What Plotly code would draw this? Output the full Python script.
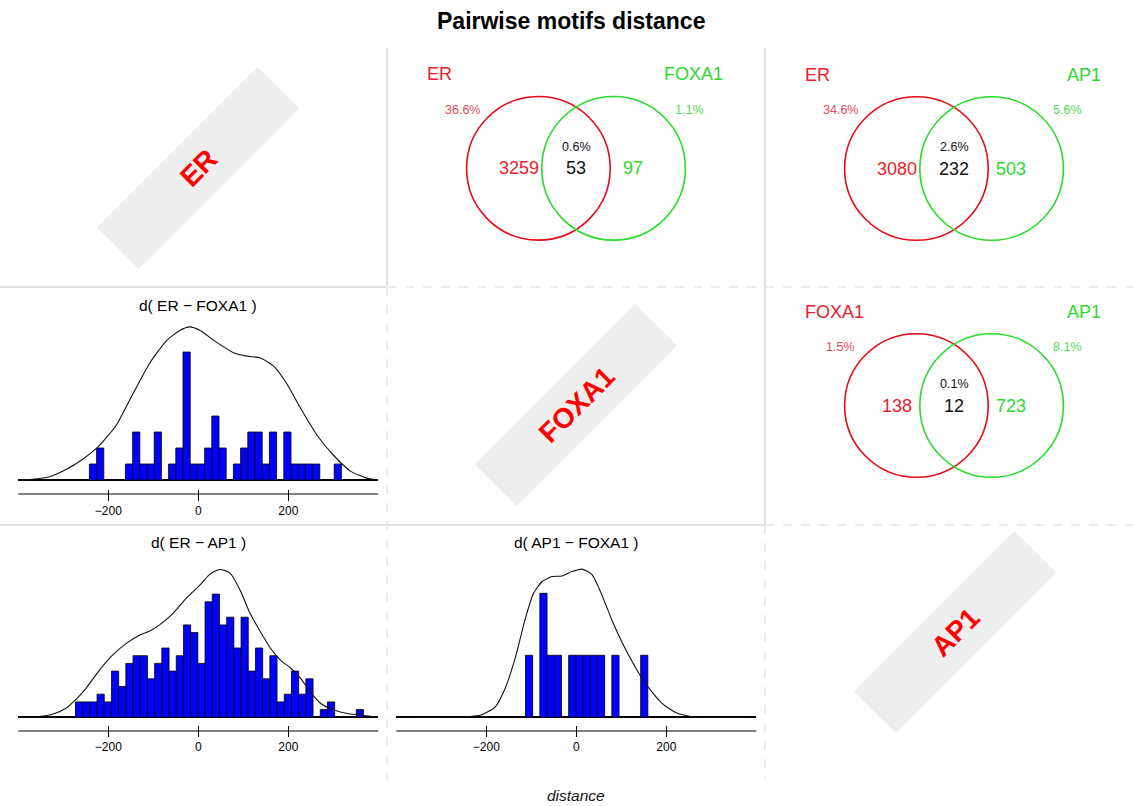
import plotly.graph_objects as go

W, H = 1133, 806
FONT = "Liberation Sans, Arial, Helvetica, sans-serif"

# ---------------------------------------------------------------- data
BIN_WIDTH = 16

er_foxa1_start = -242
er_foxa1_counts = [1, 2, 0, 0, 0, 1, 3, 1, 1, 3, 0, 1, 2, 8, 1, 1, 2, 4, 2, 0,
                   1, 2, 3, 3, 1, 3, 0, 3, 1, 1, 1, 1, 0, 0, 1]
er_foxa1_dens_x = [-400, -369, -331, -294, -257, -220, -182, -145, -108, -71,
                   -41, -19, 4, 41, 78, 108, 138, 168, 197, 227, 264, 302,
                   339, 376, 400]
er_foxa1_dens_y = [0.0, 0.04, 0.2, 0.65, 1.3, 2.15, 3.44, 5.4, 7.3, 8.7,
                   9.35, 9.57, 9.35, 8.6, 7.96, 7.74, 7.63, 7.1, 6.0, 4.5,
                   2.8, 1.5, 0.54, 0.1, 0.0]

er_ap1_start = -273
er_ap1_counts = [2, 2, 2, 3, 2, 6, 4, 7, 8, 8, 5, 7, 9, 6, 8, 12, 11, 7, 15, 16,
                 12, 13, 9, 13, 6, 9, 5, 8, 2, 3, 6, 3, 5, 0, 1, 2, 0, 0, 0, 1]
er_ap1_dens_x = [-400, -354, -324, -294, -273, -249, -220, -190, -160, -130,
                 -108, -86, -56, -26, 4, 26, 48, 71, 93, 115, 138, 160, 183,
                 205, 227, 249, 272, 302, 331, 361, 400]
er_ap1_dens_y = [0.0, 0.1, 0.4, 1.17, 2.25, 3.8, 6.1, 8.1, 9.6, 10.7, 11.2,
                 12.0, 13.5, 15.5, 17.2, 18.6, 19.2, 18.7, 16.5, 13.5, 11.1,
                 9.0, 7.4, 6.4, 5.1, 3.3, 1.8, 0.95, 0.5, 0.3, 0.0]

ap1_foxa1_start = -113
ap1_foxa1_counts = [1, 0, 2, 1, 1, 0, 1, 1, 1, 1, 1, 0, 1, 0, 0, 0, 1]
ap1_foxa1_dens_x = [-400, -276, -239, -210, -180, -158, -136, -113, -95, -76,
                    -54, -32, -10, 13, 35, 57, 79, 101, 124, 146, 168, 190,
                    220, 257, 400]
ap1_foxa1_dens_y = [0.0, 0.0, 0.01, 0.04, 0.17, 0.47, 0.95, 1.6, 2.0, 2.19,
                    2.27, 2.28, 2.35, 2.39, 2.3, 1.97, 1.57, 1.22, 0.9, 0.63,
                    0.41, 0.23, 0.08, 0.01, 0.0]

x_ticks = [-200, 0, 200]
x_limits = [-400, 400]

# Venn diagrams: (left set, right set, left only, both, right only, pct left, pct both, pct right)
venn_sets = [
    ("ER", "FOXA1", 3259, 53, 97, "36.6%", "0.6%", "1.1%"),
    ("ER", "AP1", 3080, 232, 503, "34.6%", "2.6%", "5.6%"),
    ("FOXA1", "AP1", 138, 12, 723, "1.5%", "0.1%", "8.1%"),
]
motifs = ["ER", "FOXA1", "AP1"]

# ---------------------------------------------------------------- styling
RED_TXT = "#EC1C2E"
RED_PCT = "#E8485A"
RED_LINE = "#E60A14"
GREEN_TXT = "#2ED82E"
GREEN_PCT = "#55D855"
GREEN_LINE = "#2BDB2B"
GRID_SOLID = "#E0E0E0"
GRID_DASH = "#E6E6E6"


def fx(px):
    return px / W


def fy(py):
    return 1 - py / H


fig = go.Figure()

# histogram panels, laid out in pixel terms
panels = [
    dict(title="d( ER \u2212 FOXA1 )", start=er_foxa1_start, counts=er_foxa1_counts,
         dx=er_foxa1_dens_x, dy=er_foxa1_dens_y, xpx=(18.3, 378.3), top=312,
         tick_top=489, base=480, unit=16.0, axis_line=494, title_xy=(198, 305)),
    dict(title="d( ER \u2212 AP1 )", start=er_ap1_start, counts=er_ap1_counts,
         dx=er_ap1_dens_x, dy=er_ap1_dens_y, xpx=(18.3, 378.3), top=548,
         tick_top=725, base=717.3, unit=7.7, axis_line=731, title_xy=(198, 542)),
    dict(title="d( AP1 \u2212 FOXA1 )", start=ap1_foxa1_start, counts=ap1_foxa1_counts,
         dx=ap1_foxa1_dens_x, dy=ap1_foxa1_dens_y, xpx=(396.3, 756.3), top=548,
         tick_top=725, base=717.3, unit=62.0, axis_line=731, title_xy=(576, 542)),
]

shapes = []
annotations = []

for i, p in enumerate(panels, start=1):
    xa = "x" if i == 1 else f"x{i}"
    ya = "y" if i == 1 else f"y{i}"
    centers = [p["start"] + BIN_WIDTH * (k + 0.5) for k in range(len(p["counts"]))]
    fig.add_trace(go.Bar(
        x=centers, y=p["counts"], width=BIN_WIDTH, xaxis=xa, yaxis=ya,
        marker=dict(color="#0000FF", line=dict(color="#000000", width=0.8)),
        showlegend=False, hoverinfo="skip"))
    fig.add_trace(go.Scatter(
        x=p["dx"], y=p["dy"], mode="lines", xaxis=xa, yaxis=ya,
        line=dict(color="#111111", width=1.1, shape="spline", smoothing=0.6),
        showlegend=False, hoverinfo="skip"))

    y_lo = -(p["tick_top"] - p["base"]) / p["unit"]
    y_hi = (p["base"] - p["top"]) / p["unit"]
    xkey = "xaxis" if i == 1 else f"xaxis{i}"
    ykey = "yaxis" if i == 1 else f"yaxis{i}"
    fig.update_layout(**{
        xkey: dict(domain=[fx(p["xpx"][0]), fx(p["xpx"][1])], range=x_limits,
                   anchor=ya, showgrid=False, zeroline=False, showline=False,
                   tickmode="array", tickvals=x_ticks, ticks="outside",
                   ticklen=11, tickwidth=1, tickcolor="#000000",
                   tickfont=dict(family=FONT, size=12, color="#000000"),
                   fixedrange=True),
        ykey: dict(domain=[fy(p["tick_top"]), fy(p["top"])], range=[y_lo, y_hi],
                   anchor=xa, visible=True, showgrid=False, showticklabels=False,
                   ticks="", showline=False, zeroline=True,
                   zerolinecolor="#000000", zerolinewidth=1.6, fixedrange=True),
    })
    # axis line, drawn a little below the histogram baseline
    shapes.append(dict(type="line", xref=f"{xa} domain", x0=0, x1=1,
                       yref="paper", y0=fy(p["axis_line"]), y1=fy(p["axis_line"]),
                       line=dict(color="#000000", width=1)))
    annotations.append(dict(text=p["title"], x=p["title_xy"][0], y=p["title_xy"][1],
                            xref="x4", yref="y4", showarrow=False,
                            font=dict(family=FONT, size=15.5, color="#000000")))

# pixel-space overlay for the decorations
fig.add_trace(go.Scatter(x=[None], y=[None], xaxis="x4", yaxis="y4",
                         showlegend=False, hoverinfo="skip"))
fig.update_layout(
    xaxis4=dict(domain=[0, 1], range=[0, W], visible=False, fixedrange=True),
    yaxis4=dict(domain=[0, 1], range=[H, 0], visible=False, fixedrange=True,
                anchor="x4"),
)


def pline(x0, y0, x1, y1, color, width, dash="solid"):
    shapes.append(dict(type="line", xref="x4", yref="y4", x0=x0, y0=y0, x1=x1, y1=y1,
                       layer="below", line=dict(color=color, width=width, dash=dash)))


# panel separators
pline(387, 48, 387, 287, GRID_SOLID, 2)
pline(765, 48, 765, 525, GRID_SOLID, 2)
pline(0, 287, 387, 287, GRID_SOLID, 2)
pline(0, 525, 765, 525, GRID_SOLID, 2)
pline(387, 287, 387, 780, GRID_DASH, 1.5, "dash")
pline(765, 525, 765, 780, GRID_DASH, 1.5, "dash")
pline(387, 287, 1133, 287, GRID_DASH, 1.5, "dash")
pline(765, 525, 1133, 525, GRID_DASH, 1.5, "dash")

# diagonal motif labels
diag_centres = [(198, 168), (576, 405), (955, 632)]
half_len, half_wid = 113.5, 29.5
c45 = 0.70710678
for name, (cx, cy) in zip(motifs, diag_centres):
    ux, uy = half_len * c45, -half_len * c45
    vx, vy = half_wid * c45, half_wid * c45
    pts = [(cx + ux + vx, cy + uy + vy), (cx + ux - vx, cy + uy - vy),
           (cx - ux - vx, cy - uy - vy), (cx - ux + vx, cy - uy + vy)]
    path = "M " + " L ".join(f"{x:.2f},{y:.2f}" for x, y in pts) + " Z"
    shapes.append(dict(type="path", path=path, xref="x4", yref="y4", layer="below",
                       fillcolor="#EEEEEE", line=dict(width=0)))
    annotations.append(dict(text=f"<b>{name}</b>", x=cx, y=cy, xref="x4", yref="y4",
                            showarrow=False, textangle=-45,
                            font=dict(family=FONT, size=28, color="#FF0000")))

# Venn diagrams
venn_centres = [(576, 168.3), (954, 168.5), (954, 405.5)]
R = 71.8
offset = 37.6
for (a, b, only_a, both, only_b, pa, pab, pb), (cx, cy) in zip(venn_sets, venn_centres):
    for dxc, col in ((-offset, RED_LINE), (offset, GREEN_LINE)):
        shapes.append(dict(type="circle", xref="x4", yref="y4",
                           x0=cx + dxc - R, x1=cx + dxc + R, y0=cy - R, y1=cy + R,
                           line=dict(color=col, width=1.6)))
    txt = [
        (a, cx - 151, cy - 94, 18, RED_TXT, "left"),
        (b, cx + 149, cy - 94, 18, GREEN_TXT, "right"),
        (pa, cx - 113.5, cy - 58.5, 12.5, RED_PCT, "center"),
        (pb, cx + 113.5, cy - 58.5, 12.5, GREEN_PCT, "center"),
        (pab, cx, cy - 21.8, 12.5, "#111111", "center"),
        (str(only_a), cx - 57, cy, 18, RED_TXT, "center"),
        (str(both), cx, cy, 18, "#111111", "center"),
        (str(only_b), cx + 56.5, cy, 18, GREEN_TXT, "center"),
    ]
    for t, x, y, size, col, anchor in txt:
        annotations.append(dict(text=t, x=x, y=y, xref="x4", yref="y4",
                                showarrow=False, xanchor=anchor,
                                font=dict(family=FONT, size=size, color=col)))

annotations.append(dict(text="<b>Pairwise motifs distance</b>", x=570.5, y=21,
                        xref="x4", yref="y4", showarrow=False,
                        font=dict(family=FONT, size=23, color="#000000")))
annotations.append(dict(text="<i>distance</i>", x=576, y=795, xref="x4", yref="y4",
                        showarrow=False,
                        font=dict(family=FONT, size=15.5, color="#111111")))

fig.update_layout(
    width=W, height=H, autosize=False,
    margin=dict(l=0, r=0, t=0, b=0),
    paper_bgcolor="#FFFFFF", plot_bgcolor="rgba(0,0,0,0)",
    barmode="overlay", showlegend=False,
    shapes=shapes, annotations=annotations,
)

fig.write_html("out.html", config={"displayModeBar": False})
